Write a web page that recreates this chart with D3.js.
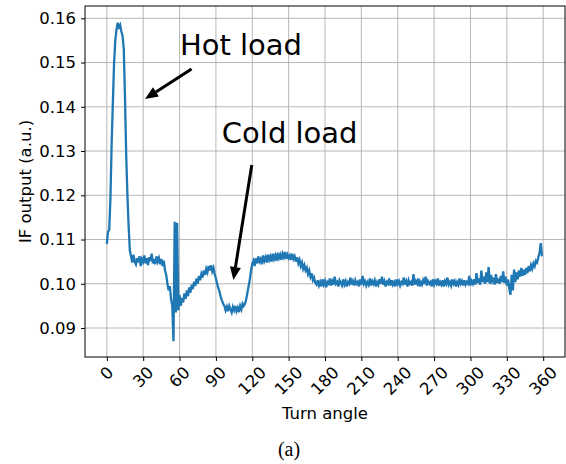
<!DOCTYPE html>
<html>
<head>
<meta charset="utf-8">
<script src="https://cdn.jsdelivr.net/npm/d3@7/dist/d3.min.js"></script>
<style>
  html, body { margin: 0; padding: 0; background: #fff; }
  svg { display: block; }
</style>
</head>
<body>
<svg id="chart" width="566" height="464"></svg>
<script>
// ---------------- data ----------------
const angleStep = 1; // degrees between samples, first sample at 0
const ifOutput = [
  .1090, .1118, .1122, .1195, .1320, .1410, .1500, .1550, .1575, .1590,
  .1580, .1585, .1570, .1560, .1530, .1420, .1290, .1200, .1130, .1075,
  .1062, .1048, .1066, .1050, .1044, .1058, .1048, .1062, .1040, .1056,
  .1050, .1064, .1046, .1058, .1042, .1060, .1052, .1068, .1046, .1056,
  .1044, .1062, .1050, .1058, .1044, .1056, .1040, .1052, .1030, .1020,
  .1000, .0985, .0995, .0965, .0950, .0870, .1140, .0935, .1138, .0940,
  .0975, .0950, .0968, .0958, .0978, .0966, .0985, .0972, .0992, .0980,
  .0998, .0988, .1005, .0995, .1012, .1000, .1018, .1008, .1022, .1014,
  .1030, .1020, .1034, .1026, .1040, .1030, .1042, .1028, .1036, .1022,
  .1012, .1000, .0990, .0982, .0970, .0962, .0955, .0950, .0940, .0948,
  .0938, .0950, .0942, .0935, .0948, .0940, .0950, .0938, .0946, .0936,
  .0950, .0942, .0955, .0950, .0955, .0965, .0980, .0995, .1010, .1030,
  .1045, .1052, .1040, .1058, .1046, .1062, .1050, .1056, .1044, .1064,
  .1052, .1060, .1048, .1066, .1054, .1062, .1050, .1068, .1056, .1064,
  .1052, .1070, .1058, .1066, .1054, .1068, .1060, .1072, .1056, .1066,
  .1058, .1064, .1054, .1068, .1056, .1062, .1050, .1060, .1046, .1054,
  .1040, .1048, .1034, .1042, .1030, .1036, .1022, .1030, .1016, .1024,
  .1008, .1014, .1002, .0998, .1008, .0996, .1004, .0994, .1010, .0998,
  .1006, .0992, .1004, .1000, .1012, .0996, .1006, .0998, .1016, .1000,
  .1004, .0994, .1008, .1002, .0996, .1010, .0998, .1006, .0994, .1004,
  .1000, .1014, .0998, .1006, .0996, .1008, .1000, .1004, .0994, .1010,
  .0998, .1018, .1000, .1006, .0996, .1004, .0998, .1012, .0996, .1006,
  .1000, .1008, .0994, .1004, .0998, .1010, .1000, .1016, .0998, .1006,
  .0994, .1004, .1000, .1012, .0996, .1008, .0998, .1004, .0994, .1010,
  .1000, .1006, .0996, .1004, .1000, .1014, .0998, .1006, .0994, .1008,
  .1000, .1004, .0996, .1022, .0998, .1006, .1000, .1012, .0994, .1004,
  .0998, .1008, .1000, .1016, .0996, .1006, .1000, .1004, .0994, .1010,
  .0998, .1006, .1000, .1012, .0996, .1004, .0998, .1008, .0994, .1006,
  .1000, .1014, .0998, .1004, .0996, .1010, .1000, .1006, .0994, .1004,
  .0998, .1012, .1000, .1006, .0996, .1008, .0998, .1004, .1000, .1018,
  .0996, .1006, .1000, .1010, .0998, .1024, .1002, .1012, .0998, .1030,
  .1004, .1016, .1000, .1026, .1004, .1038, .1000, .1020, .1006, .1014,
  .0998, .1022, .1002, .1012, .1000, .1018, .1004, .1028, .1002, .1016,
  .0996, .1010, .0990, .0975, .1020, .0985, .1032, .1004, .1026, .1010,
  .1030, .1016, .1036, .1018, .1032, .1020, .1036, .1024, .1040, .1028,
  .1042, .1034, .1046, .1040, .1052, .1048, .1060, .1070, .1092, .1062
];
const xTicks = [0, 30, 60, 90, 120, 150, 180, 210, 240, 270, 300, 330, 360];
const yTicks = [0.09, 0.10, 0.11, 0.12, 0.13, 0.14, 0.15, 0.16];
const xLabel = "Turn angle";
const yLabel = "IF output (a.u.)";
const caption = "(a)";
const annotationTexts = ["Hot load", "Cold load"];

// ---------------- layout ----------------
const svg = d3.select("#chart");
const plot = { left: 85, right: 565, top: 6, bottom: 357 };
const font = "DejaVu Sans, sans-serif";

const x = d3.scaleLinear().domain([-18, 378]).range([plot.left, plot.right]);
const y = d3.scaleLinear().domain([0.08345, 0.16278]).range([plot.bottom, plot.top]);

const data = ifOutput.map((v, i) => ({ angle: i * angleStep, value: v }));

// grid
const grid = svg.append("g").attr("stroke", "#b0b0b0").attr("stroke-width", 0.9);
grid.selectAll(".gx").data(xTicks).join("line")
  .attr("x1", d => x(d)).attr("x2", d => x(d))
  .attr("y1", plot.top).attr("y2", plot.bottom);
grid.selectAll(".gy").data(yTicks).join("line")
  .attr("y1", d => y(d)).attr("y2", d => y(d))
  .attr("x1", plot.left).attr("x2", plot.right);

// line
svg.append("path")
  .datum(data)
  .attr("fill", "none")
  .attr("stroke", "#1f77b4")
  .attr("stroke-width", 2.3)
  .attr("stroke-linejoin", "miter")
  .attr("d", d3.line().x(d => x(d.angle)).y(d => y(d.value)));

// frame
svg.append("rect")
  .attr("x", plot.left).attr("y", plot.top)
  .attr("width", plot.right - plot.left).attr("height", plot.bottom - plot.top)
  .attr("fill", "none").attr("stroke", "#000").attr("stroke-width", 1);

// y axis
const yAxis = svg.append("g")
  .attr("transform", `translate(${plot.left},0)`)
  .call(d3.axisLeft(y).tickValues(yTicks).tickFormat(d3.format(".2f")).tickSize(4).tickPadding(5));
yAxis.select(".domain").remove();
yAxis.selectAll("text").attr("font-family", font).attr("font-size", 16.5).attr("fill", "#000");
yAxis.selectAll("line").attr("stroke", "#000");

// x axis
const xAxis = svg.append("g")
  .attr("transform", `translate(0,${plot.bottom})`)
  .call(d3.axisBottom(x).tickValues(xTicks).tickSize(4).tickFormat(d => String(d)));
xAxis.select(".domain").remove();
xAxis.selectAll("line").attr("stroke", "#000");
xAxis.selectAll("text")
  .attr("font-family", font).attr("font-size", 16.5).attr("fill", "#000")
  .attr("text-anchor", "middle").attr("dy", null)
  .attr("dominant-baseline", "central")
  .each(function(d) {
    const w = this.getComputedTextLength();
    const c = (w + 12) / (2 * Math.SQRT2);
    const cy = 8.5 + c;
    d3.select(this).attr("x", 0).attr("y", 0)
      .attr("transform", `translate(-0.5,${cy}) rotate(-45)`);
  });

// axis labels
svg.append("text")
  .attr("x", (plot.left + plot.right) / 2).attr("y", 419)
  .attr("text-anchor", "middle")
  .attr("font-family", font).attr("font-size", 16.5)
  .text(xLabel);

svg.append("text")
  .attr("transform", `translate(31,${(plot.top + plot.bottom) / 2}) rotate(-90)`)
  .attr("text-anchor", "middle")
  .attr("font-family", font).attr("font-size", 16.5)
  .text(yLabel);

svg.append("text")
  .attr("x", 289).attr("y", 456)
  .attr("text-anchor", "middle")
  .attr("font-family", "Liberation Serif, Times New Roman, serif").attr("font-size", 20)
  .text(caption);

// annotations (positions in data coordinates)
const annots = [
  { text: annotationTexts[0], tx: 60.3, ty: 0.1517, ax: 69.9, ay: 0.14854, hx: 31.5, hy: 0.14176 },
  { text: annotationTexts[1], tx: 94.9, ty: 0.1318, ax: 119.6, ay: 0.12684, hx: 104.4, hy: 0.10085 }
];
annots.forEach(a => {
  svg.append("text")
    .attr("x", x(a.tx)).attr("y", y(a.ty))
    .attr("font-family", font).attr("font-size", 29)
    .attr("fill", "#000")
    .text(a.text);
  const x0 = x(a.ax), y0 = y(a.ay), x1 = x(a.hx), y1 = y(a.hy);
  const dx = x1 - x0, dy = y1 - y0, L = Math.hypot(dx, dy);
  const ux = dx / L, uy = dy / L, px = -uy, py = ux;
  const hl = 13, hw = 5.5;
  const bx = x1 - ux * hl, by = y1 - uy * hl;
  svg.append("line")
    .attr("x1", x0).attr("y1", y0).attr("x2", bx).attr("y2", by)
    .attr("stroke", "#000").attr("stroke-width", 3);
  svg.append("path")
    .attr("d", `M${x1},${y1}L${bx + px * hw},${by + py * hw}L${bx - px * hw},${by - py * hw}Z`)
    .attr("fill", "#000");
});
</script>
</body>
</html>
